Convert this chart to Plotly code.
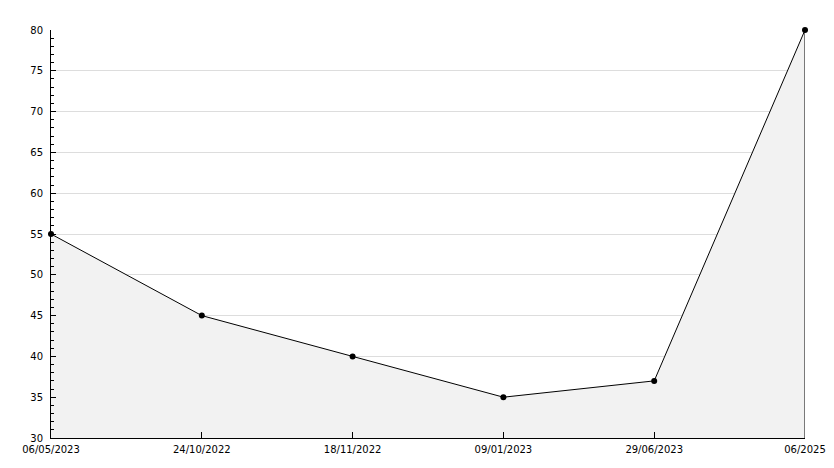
import plotly.graph_objects as go

categories = ["06/05/2023", "24/10/2022", "18/11/2022", "09/01/2023", "29/06/2023", "06/2025"]
values = [55, 45, 40, 35, 37, 80]
y_min, y_max = 30, 80

fig = go.Figure()
fig.add_trace(go.Scatter(
    x=categories, y=values, mode="lines+markers",
    fill="tozeroy", fillcolor="#f2f2f2",
    line=dict(color="black", width=1),
    marker=dict(color="black", size=6, symbol="circle"),
    cliponaxis=False,
    hoverinfo="x+y", showlegend=False,
))
# right edge outline of area
fig.add_trace(go.Scatter(
    x=[categories[-1], categories[-1]], y=[y_min, values[-1]], mode="lines",
    line=dict(color="black", width=1), showlegend=False, hoverinfo="skip",
))

fig.update_layout(
    width=834, height=468,
    margin=dict(l=43, r=37, t=22, b=38),
    paper_bgcolor="white", plot_bgcolor="white",
    font=dict(family="DejaVu Sans", size=10, color="black"),
)
fig.update_xaxes(
    type="category", range=[0, len(categories) - 1],
    showline=True, linecolor="black", linewidth=1,
    ticks="inside", ticklen=6, tickcolor="black", ticklabelstandoff=2,
    showgrid=False, zeroline=False, fixedrange=True, automargin=False,
)
fig.update_yaxes(
    range=[y_min, y_max], dtick=5, tick0=30,
    showline=True, linecolor="black", linewidth=1,
    ticks="inside", ticklen=5, tickcolor="black", ticklabelstandoff=5,
    minor=dict(dtick=1, ticks="inside", ticklen=3, tickcolor="black", showgrid=False),
    showgrid=True, gridcolor="#dddddd", gridwidth=1,
    zeroline=False, fixedrange=True, automargin=False,
)
fig.write_html("out.html")
